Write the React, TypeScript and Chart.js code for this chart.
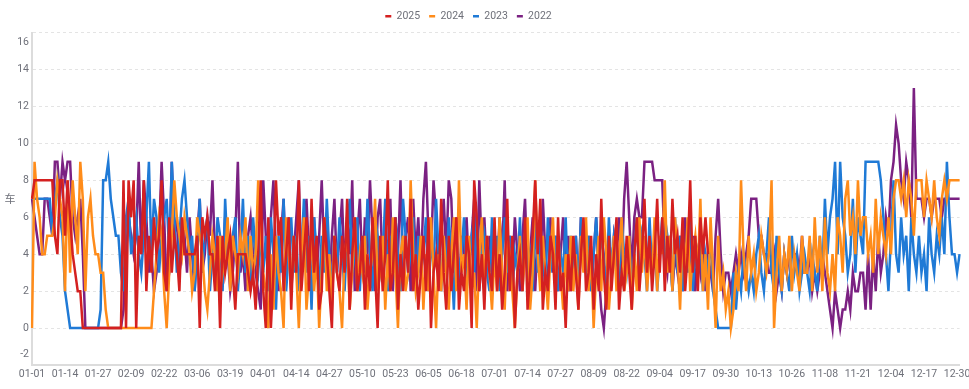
import React, { useEffect, useRef } from 'react';
import { Chart, registerables } from 'chart.js';

Chart.register(...registerables);

// ---------- categories (leap-year calendar, MM-DD) ----------
const monthDays = [31, 29, 31, 30, 31, 30, 31, 31, 30, 31, 30, 31];
const categories: string[] = [];
monthDays.forEach((n, m) => {
  for (let d = 1; d <= n; d++) {
    categories.push(`${String(m + 1).padStart(2, '0')}-${String(d).padStart(2, '0')}`);
  }
});
const labelEvery = 13;

// ---------- series ----------
const seriesNames = ['2025', '2024', '2023', '2022'];
const seriesColors = ['#d42020', '#ff8c1a', '#1f7ad6', '#7b2182'];

// 2025 (ends 09-23)
const s2025 = [
  7,8,8,8,8,8,8,8,8,5, 4,8,8,5,8,6,4,3,2,2, 0,0,0,0,0,0,0,0,0,0, 0,
  0,0,0,0,0,8,0,8,6,8, 0,5,4,8,2,5,3,6,4,5, 8,3,2,6,3,5,4,2,6,
  4,4,4,4,4,5,0,6,5,6, 4,4,2,5,0,5,3,4,5,3, 1,4,4,4,4,3,2,3,1,4, 8,
  2,0,6,0,3,8,5,6,2,4, 6,1,5,3,8,2,4,6,2,7, 3,5,1,2,6,4,2,0,5,3,
  2,5,3,7,1,4,6,2,3,5, 1,4,2,6,3,0,5,2,4,8, 2,3,6,1,4,2,5,3,7,2, 4,
  1,3,5,2,6,0,3,4,2,7, 3,1,5,2,4,6,1,3,2,5, 4,0,8,6,2,4,1,5,3,2,
  6,2,4,1,3,7,2,5,0,3, 4,2,6,1,3,5,8,4,7,1, 3,2,5,4,1,6,2,3,0,4, 2,
  5,3,1,4,6,2,3,5,1,4, 2,7,3,1,5,2,4,6,1,3, 2,5,3,1,4,6,2,4,7,3, 5,
  2,4,7,3,6,2,5,3,7,4, 5,3,6,2,4,8,3,5,2,6, 4,6,4,
];

const s2024 = [
  0,9,7,6,4,4,5,5,5,6, 8,7,6,2,8,3,8,6,4,9, 7,2,6,7,5,4,4,3,3,1, 0,
  0,0,0,0,0,0,0,0,0,0, 0,0,0,0,0,0,0,2,4,6, 5,2,0,3,5,8,6,5,4,
  6,5,4,2,3,6,5,4,2,1, 3,5,4,2,5,3,4,6,2,5, 4,3,5,4,6,2,5,3,4,8, 5,
  3,2,0,4,1,5,3,2,0,6, 4,2,5,3,0,4,6,1,3,5, 2,4,0,3,6,2,4,1,5,3,
  2,0,4,5,1,3,6,2,4,3, 5,1,3,4,7,2,3,5,1,4, 2,6,3,0,4,5,2,3,8,4, 2,
  3,5,1,4,2,6,3,0,4,2, 5,3,1,4,6,2,8,3,4,1, 5,2,3,0,4,6,2,5,3,1,
  4,2,6,3,1,5,4,2,0,3, 5,2,4,6,1,3,8,4,2,5, 3,1,4,6,2,5,3,1,4,2, 5,
  2,4,1,5,3,6,2,4,0,3, 5,2,6,4,1,3,5,2,4,6, 2,3,5,1,4,2,6,3,5,2, 4,
  3,6,2,5,4,8,3,5,2,6, 4,1,5,3,6,2,4,5,3,7, 2,4,1,6,3,0,5,2,3,1,
  2,0,1,3,2,8,4,2,5,3, 4,2,3,5,4,3,4,8,0,3, 5,2,4,3,5,2,4,3,2,5, 3,
  3,5,2,6,3,5,2,6,3,2, 4,2,6,5,3,7,8,5,6,4, 8,5,6,6,4,5,3,7,4,6,
  5,4,6,4,7,8,8,7,8,6, 8,7,5,8,8,8,6,8,7,6, 8,6,5,7,8,7,8,8,8,8, 8,
];

const s2023 = [
  7,7,7,7,7,7,7,7,5,7, 8,6,5,2,1,0,0,0,0,0, 0,0,0,0,0,0,0,1,8,8, 9,
  7,6,5,5,3,2,6,7,4,5, 6,4,3,5,6,9,4,7,6,3, 5,6,7,4,9,6,3,5,7,
  8,6,4,5,2,4,7,3,5,6, 2,4,3,6,5,2,7,4,3,5, 6,2,4,7,3,5,2,6,4,3, 5,
  3,5,2,6,4,1,5,3,7,2, 4,6,3,5,2,4,7,3,5,1, 6,4,2,5,3,7,4,2,5,3,
  6,4,2,5,7,3,4,6,2,5, 3,7,4,2,6,5,3,4,7,2, 5,3,6,4,2,7,5,3,4,6, 2,
  5,3,4,6,2,5,3,7,4,2, 5,3,6,4,1,5,3,4,6,2, 4,5,3,6,2,4,5,3,2,6,
  3,5,2,4,6,3,5,2,4,3, 6,2,5,3,4,2,6,3,5,4, 2,6,3,4,5,2,4,3,6,2, 5,
  3,5,2,6,4,3,5,2,4,6, 3,5,4,2,6,3,5,4,2,6, 4,3,5,2,4,6,3,5,4,2, 6,
  3,5,2,4,6,3,5,4,2,6, 3,5,2,4,3,6,2,4,3,5, 2,4,3,5,2,1,0,0,0,0,
  0,0,3,1,3,2,4,3,2,3, 2,4,5,3,2,4,6,3,2,5, 3,2,4,3,2,5,3,4,2,3, 4,
  3,2,4,3,2,5,3,7,4,6, 7,9,4,9,6,5,3,4,7,3, 6,5,4,9,9,9,9,9,9,8,
  6,4,2,5,8,4,3,6,4,5, 2,6,4,3,5,3,4,2,6,4, 3,5,4,6,4,9,6,4,4,3, 4,
];

const s2022 = [
  7,6,5,4,4,7,7,6,5,9, 9,7,9,8,9,9,6,5,6,7, 4,0,0,0,0,0,0,0,0,0, 0,
  0,0,0,0,0,1,4,6,5,4, 5,9,4,8,6,3,4,2,3,5, 9,6,2,3,9,5,6,3,4,
  5,3,6,4,2,5,7,3,4,6, 5,8,4,2,5,3,6,4,2,3, 5,9,3,4,2,5,6,4,3,2, 1,
  8,5,3,6,8,4,2,5,7,3, 6,2,4,6,8,3,5,7,4,2, 6,3,5,8,4,6,2,5,7,3,
  5,7,3,6,4,8,2,5,7,3, 6,4,8,5,2,6,7,3,5,4, 7,2,6,4,8,3,5,6,2,7, 4,
  6,3,7,9,5,4,8,6,3,5, 7,4,8,7,3,6,2,5,4,6, 3,5,7,2,8,4,6,3,5,2,
  5,3,6,4,8,2,5,3,6,4, 2,5,7,3,4,6,2,5,3,7, 4,2,6,3,5,2,4,6,3,5, 2,
  3,5,2,6,4,3,5,2,4,6, 3,1,0,2,4,3,5,4,6,3, 7,9,6,3,6,7,6,6,9,9, 9,
  9,8,8,8,8,4,3,5,2,4, 3,5,2,6,4,3,5,2,4,3, 5,2,4,3,2,5,7,4,2,3,
  3,2,3,4,3,4,3,4,5,7, 7,7,5,5,4,4,3,3,4,2, 3,2,4,3,4,4,4,4,3,5, 3,
  3,4,2,3,2,3,4,3,2,1, 0,2,1,0,1,1,2,1,3,2, 2,3,3,1,4,1,4,2,5,3,
  4,6,5,8,9,11,10,8,7,9, 8,6,13,7,7,7,6,7,7,6, 7,7,7,6,7,7,7,7,7,7, 7,
];

const seriesValues = [s2025, s2024, s2023, s2022];

// ---------- axis ----------
const yMin = -2;
const yMax = 16;
const yStep = 2;
const yEdgeLabels = [16, -2];
const yAxisName = '车';

const textColor = '#6e7079';
const fontFamily = 'Roboto, "Noto Sans", sans-serif';
const fontSize = 10.5;

export default function App() {
  const canvasRef = useRef<HTMLCanvasElement | null>(null);

  useEffect(() => {
    if (!canvasRef.current) return;

    const extras = {
      id: 'extras',
      afterLayout(chart: any) {
        const lg = chart.legend;
        if (lg) {
          lg.top -= 1;
          lg.bottom -= 1;
          lg.left = 0;
          lg.right = 937;
        }
      },
      afterDraw(chart: any) {
        const ctx = chart.ctx;
        const ys = chart.scales.y;
        const area = chart.chartArea;
        ctx.save();
        ctx.fillStyle = textColor;
        ctx.font = `${fontSize}px ${fontFamily}`;
        ctx.textAlign = 'right';
        ctx.textBaseline = 'middle';
        ctx.fillText(String(yEdgeLabels[0]), ys.right - 3, ys.getPixelForValue(yEdgeLabels[0]) + 9.5);
        ctx.fillText(String(yEdgeLabels[1]), ys.right - 3, ys.getPixelForValue(yEdgeLabels[1]) - 10.5);
        ctx.textAlign = 'center';
        ctx.font = `11px "Noto Sans CJK SC", sans-serif`;
        ctx.fillText(yAxisName, 10, (area.top + area.bottom) / 2);
        ctx.restore();
      },
    };

    const chart = new Chart(canvasRef.current, {
      type: 'line',
      data: {
        labels: categories,
        datasets: seriesNames.map((name, i) => ({
          label: name,
          data: seriesValues[i],
          borderColor: seriesColors[i],
          backgroundColor: seriesColors[i],
          borderWidth: 2.5,
          pointRadius: 0,
          pointHoverRadius: 0,
          tension: 0,
          fill: false,
        })),
      },
      options: {
        responsive: false,
        animation: false,
        devicePixelRatio: 1,
        layout: { padding: { top: 3.1, right: 9.4, left: 0, bottom: 0 } },
        plugins: {
          legend: {
            position: 'top',
            labels: {
              usePointStyle: true,
              pointStyle: 'line',
              pointStyleWidth: 6,
              padding: 9,
              color: textColor,
              font: { family: fontFamily, size: fontSize },
            },
          },
          tooltip: { enabled: false },
        },
        scales: {
          x: {
            grid: { display: false, drawTicks: false },
            border: { display: true, color: '#dcdcdc', width: 2 },
            ticks: {
              autoSkip: false,
              maxRotation: 0,
              minRotation: 0,
              padding: 3,
              color: textColor,
              font: { family: fontFamily, size: fontSize },
              callback: (_v: any, i: number) => (i % labelEvery === 0 ? categories[i] : ''),
            },
            afterFit: (s: any) => {
              s.height = 24;
            },
          },
          y: {
            min: yMin,
            max: yMax,
            ticks: {
              stepSize: yStep,
              padding: 3,
              color: textColor,
              font: { family: fontFamily, size: fontSize },
              callback: (v: any) => (yEdgeLabels.includes(Number(v)) ? '' : String(v)),
            },
            grid: {
              drawTicks: false,
              lineWidth: 1,
              color: (c: any) => (c.tick && c.tick.value === yMin ? 'rgba(0,0,0,0)' : '#e4e4e4'),
            },
            border: { display: true, color: '#dcdcdc', width: 2, dash: [3, 3] },
            afterFit: (s: any) => {
              s.width = 32;
            },
          },
        },
      },
      plugins: [extras],
    } as any);

    return () => chart.destroy();
  }, []);

  return (
    <div style={{ position: 'absolute', left: 0, top: 0, width: 969, height: 389, overflow: 'hidden', background: '#fff' }}>
      <canvas ref={canvasRef} width={969} height={389} style={{ display: 'block' }} />
    </div>
  );
}
